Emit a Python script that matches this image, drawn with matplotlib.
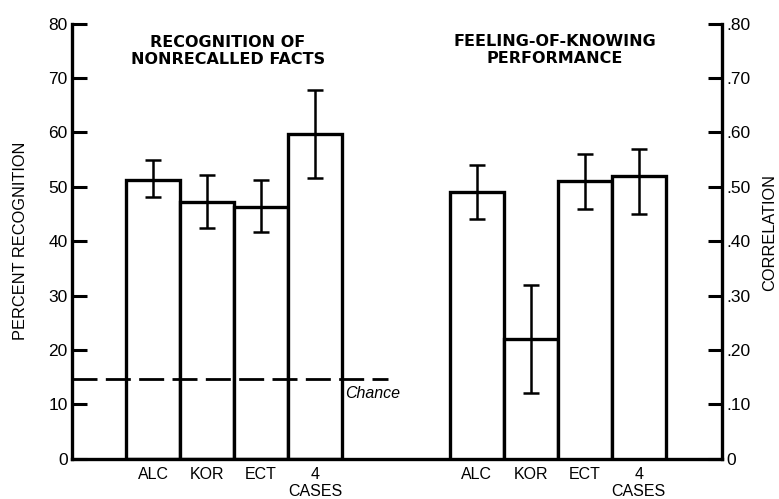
import matplotlib.pyplot as plt
import numpy as np

plt.rcParams["font.family"] = ["Liberation Sans", "DejaVu Sans"]

groups = ["ALC", "KOR", "ECT", "4\nCASES"]

# recognition of nonrecalled facts (percent)
recog = [51.3, 47.3, 46.2, 59.8]
recog_lo = [48.1, 42.4, 41.6, 51.6]
recog_hi = [54.9, 52.2, 51.3, 67.8]
chance = 14.6

# feeling-of-knowing correlation
fok = [0.49, 0.22, 0.51, 0.52]
fok_lo = [0.44, 0.12, 0.46, 0.45]
fok_hi = [0.54, 0.32, 0.56, 0.57]

LW = 2.4

fig = plt.figure(figsize=(7.79, 4.99), dpi=100)
ax = fig.add_axes([72 / 779, 40.3 / 499, 650 / 779, 435 / 499])
ax2 = ax.twinx()

x_left = np.arange(len(groups)) + 1.5
x_right = np.arange(len(groups)) + 7.5

ax.bar(x_left, recog, width=1.0, facecolor="white", edgecolor="black", linewidth=LW, zorder=2)
ax.errorbar(x_left, recog,
            yerr=[np.subtract(recog, recog_lo), np.subtract(recog_hi, recog)],
            fmt="none", ecolor="black", elinewidth=1.8, capsize=6, capthick=1.8, zorder=3)

ax2.bar(x_right, fok, width=1.0, facecolor="white", edgecolor="black", linewidth=LW, zorder=2)
ax2.errorbar(x_right, fok,
             yerr=[np.subtract(fok, fok_lo), np.subtract(fok_hi, fok)],
             fmt="none", ecolor="black", elinewidth=1.8, capsize=6, capthick=1.8, zorder=3)

# chance line
ax.plot([0, 5.85], [chance, chance], color="black", linewidth=2, dashes=(9, 3), zorder=4)
ax.text(5.05, chance - 2.7, "Chance", style="italic", fontsize=11.5, va="center", ha="left")

ax.set_xlim(0, 12.04)
ax.set_ylim(0, 80)
ax2.set_ylim(0, 0.8)

ax.set_yticks(np.arange(0, 81, 10))
ax.set_yticklabels([str(v) for v in range(0, 81, 10)], fontsize=12.5)
ax2.set_yticks(np.arange(0, 0.81, 0.1))
ax2.set_yticklabels(["0"] + [f".{v}0" for v in range(1, 9)], fontsize=12.5)

ax.set_xticks(np.concatenate([x_left, x_right]))
ax.set_xticklabels(groups + groups, fontsize=11.5, linespacing=1.2)
ax.tick_params(axis="x", length=0, pad=6)
ax.tick_params(axis="y", direction="in", length=11, width=2.2, pad=3)
ax2.tick_params(axis="y", direction="in", length=10, width=2.2, pad=3)

for s in ["top", "right"]:
    ax.spines[s].set_visible(False)
for s in ["top", "left", "bottom"]:
    ax2.spines[s].set_visible(False)
ax.spines["left"].set_linewidth(LW)
ax.spines["bottom"].set_linewidth(LW)
ax2.spines["right"].set_linewidth(LW)

ax.set_ylabel("PERCENT RECOGNITION", fontsize=11.8)
ax.yaxis.set_label_coords(-0.068, 0.5)
ax2.set_ylabel("CORRELATION", fontsize=11.8, rotation=90)
ax2.yaxis.set_label_coords(1.062, 0.52)

fig.text(228 / 779, 1 - 35 / 499, "RECOGNITION OF\nNONRECALLED FACTS", ha="center", va="top",
         fontsize=11.5, fontweight="bold", family="DejaVu Sans", linespacing=1.2)
fig.text(555 / 779, 1 - 34 / 499, "FEELING-OF-KNOWING\nPERFORMANCE", ha="center", va="top",
         fontsize=11.5, fontweight="bold", family="DejaVu Sans", linespacing=1.2)

fig.savefig("out.png", dpi=100)
